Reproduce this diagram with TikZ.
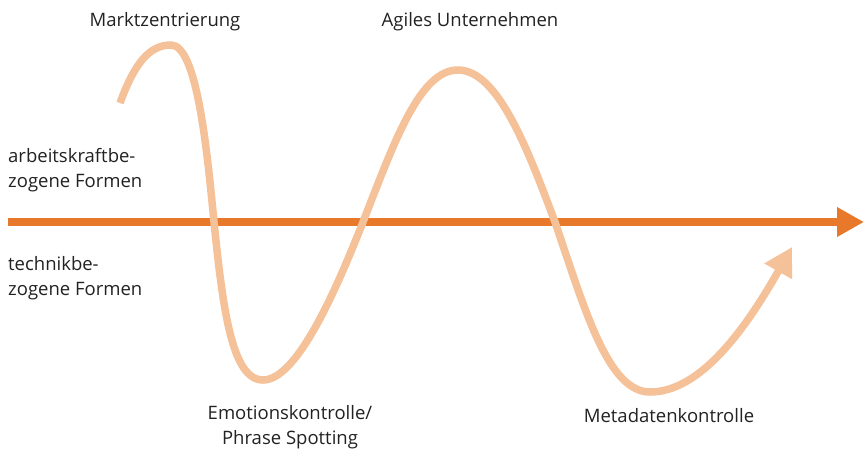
\documentclass[tikz,border=0pt]{standalone}
\usepackage{fontspec}
\setmainfont{Open Sans}
\usetikzlibrary{arrows.meta}
\definecolor{axisorange}{HTML}{E8792A}
\definecolor{wave}{HTML}{F5C198}
\definecolor{txt}{HTML}{222222}
\tikzset{
  lbl/.style={font=\fontsize{18.5}{25.5}\selectfont, text=txt, inner sep=0pt},
}
\begin{document}
\begin{tikzpicture}[x=1pt,y=-1pt]
\useasboundingbox (0,0) rectangle (864,448);
% axis
\coordinate (a0) at (8,222);
\coordinate (a1) at (864,222);
\draw[axisorange, line width=8pt, -{Triangle[width=28pt,length=27pt]}] (a0) -- (a1);
% wave
\draw[wave, line width=7.5pt, -{Triangle[width=30pt,length=28pt]}]
  (120,103) .. controls (135,62) and (150,45) .. (171,45)
  .. controls (197,45) and (207,150) .. (214,222)
  .. controls (223,310) and (232,380) .. (263,380)
  .. controls (298,380) and (338,285) .. (363,222)
  .. controls (395,140) and (420,70) .. (458,70)
  .. controls (498,70) and (528,150) .. (555,222)
  .. controls (585,310) and (608,392) .. (650,392)
  .. controls (700,392) and (745,330) .. (792,247);
% labels
\node[lbl, anchor=center] (m) at (165,22) {Marktzentrierung};
\node[lbl, anchor=center] (ag) at (470,22) {Agiles Unternehmen};
\node[lbl, anchor=west, align=left] (ak) at (8,170) {arbeitskraftbe-\\zogene Formen};
\node[lbl, anchor=west, align=left] (tb) at (8,278) {technikbe-\\zogene Formen};
\node[lbl, anchor=north, align=center] (em) at (290,405) {Emotionskontrolle/\\Phrase Spotting};
\node[lbl, anchor=center] (md) at (669,416) {Metadatenkontrolle};
\end{tikzpicture}
\end{document}
